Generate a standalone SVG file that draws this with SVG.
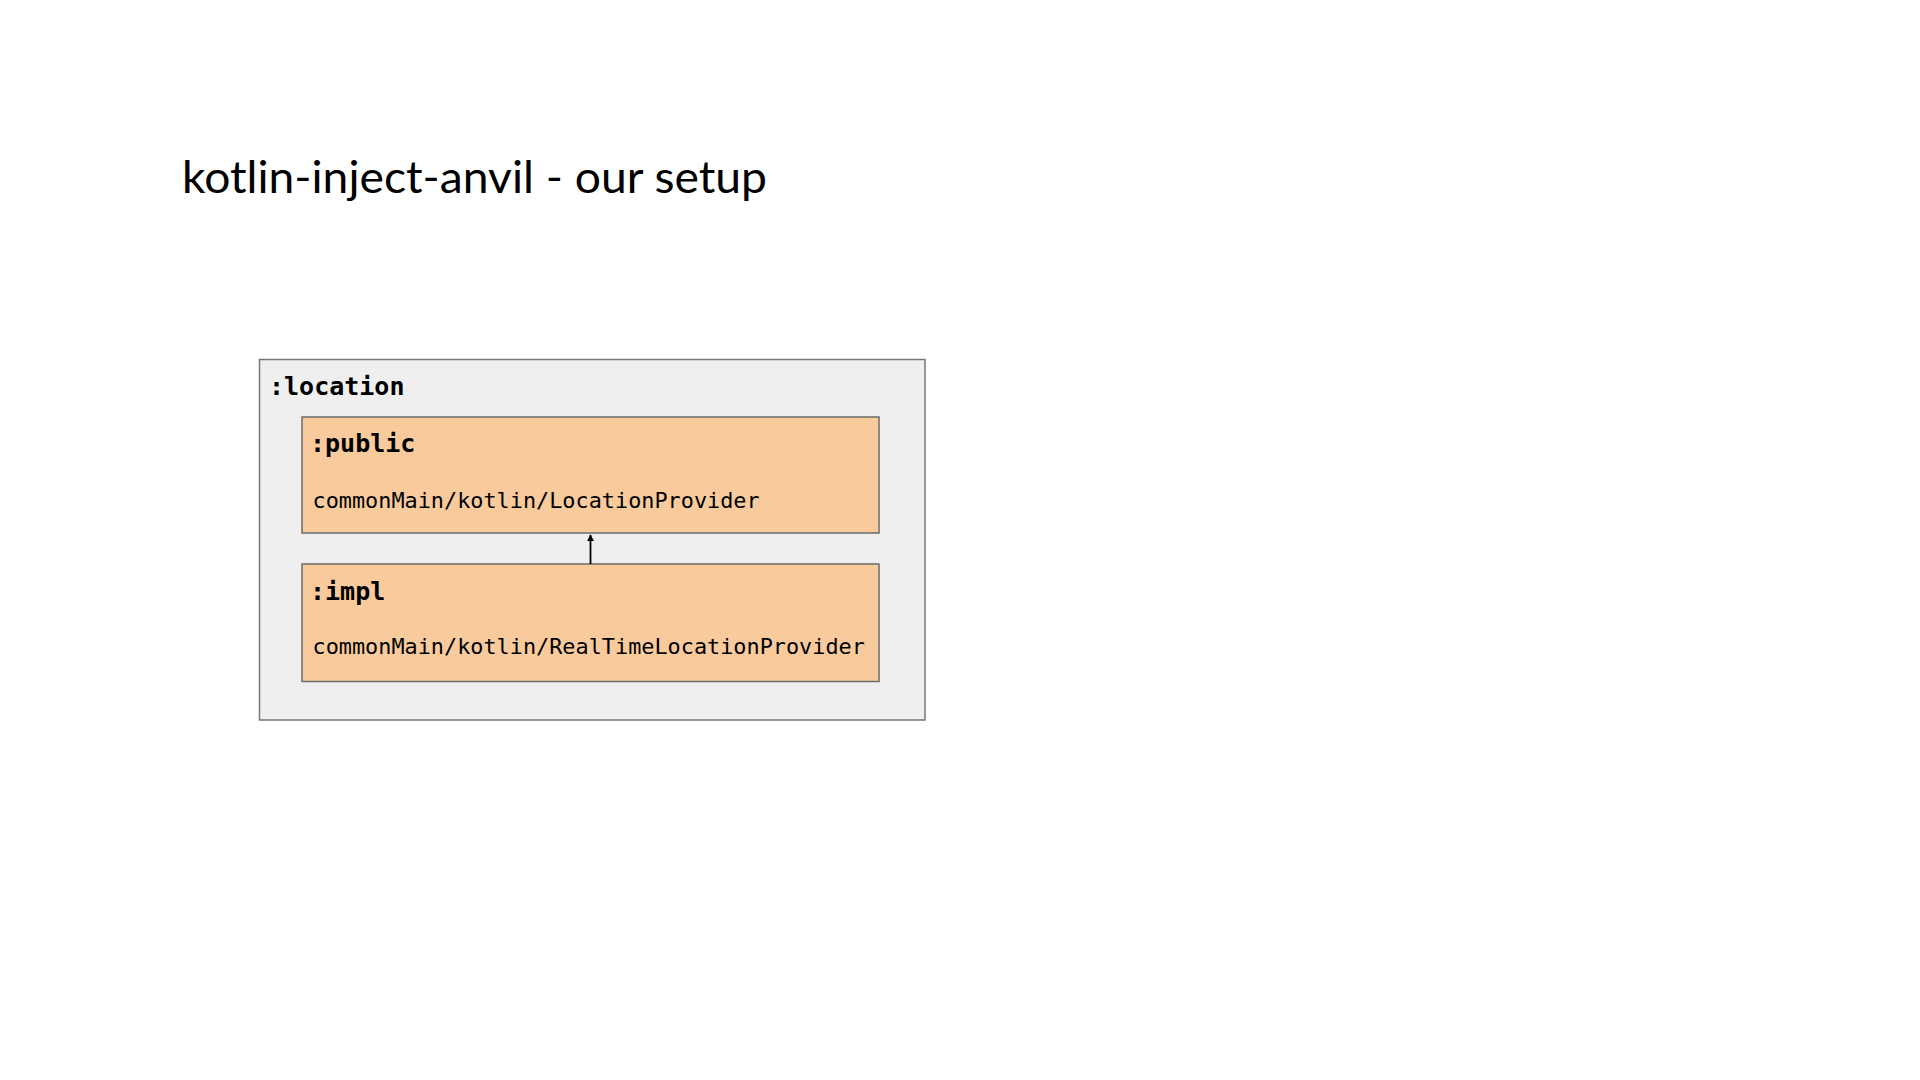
<svg xmlns="http://www.w3.org/2000/svg" width="1920" height="1080" viewBox="0 0 1920 1080">
<style>
.title{font-family:"Lato","Open Sans",sans-serif;font-size:45px;fill:#000}
.outer{fill:#efefef;stroke:#777;stroke-width:1.5}
.mod{fill:#f9cb9c;stroke:#6b6b6b;stroke-width:1.5}
.hd{font-family:"DejaVu Sans Mono",monospace;font-weight:bold;font-size:25px;fill:#000}
.path{font-family:"DejaVu Sans Mono",monospace;font-size:21.85px;fill:#000}
.conn{stroke:#000;stroke-width:1.8;fill:none}
</style>
<defs>
<marker id="arr" viewBox="0 0 10 10" refX="9" refY="5" markerWidth="4" markerHeight="4" orient="auto" markerUnits="strokeWidth">
<path d="M0,0 L10,5 L0,10 z" fill="#000"/>
</marker>
</defs>
<rect width="1920" height="1080" fill="#fff"/>
<text class="title" x="182" y="193" textLength="585" lengthAdjust="spacingAndGlyphs">kotlin-inject-anvil - our setup</text>
<g id="location">
<rect class="outer" x="259.5" y="359.5" width="665.5" height="360.5"/>
<text class="hd" x="269" y="395">:location</text>
</g>
<g id="public">
<rect class="mod" x="302" y="417" width="577" height="116"/>
<text class="hd" x="310" y="452">:public</text>
<text class="path" x="312.5" y="507.5">commonMain/kotlin/LocationProvider</text>
</g>
<g id="impl">
<rect class="mod" x="302" y="564" width="577" height="117.5"/>
<text class="hd" x="310" y="600">:impl</text>
<text class="path" x="312.5" y="653.5">commonMain/kotlin/RealTimeLocationProvider</text>
</g>
<g id="connectors">
<line class="conn" x1="590.5" y1="564" x2="590.5" y2="535" marker-end="url(#arr)"/>
</g>
</svg>
